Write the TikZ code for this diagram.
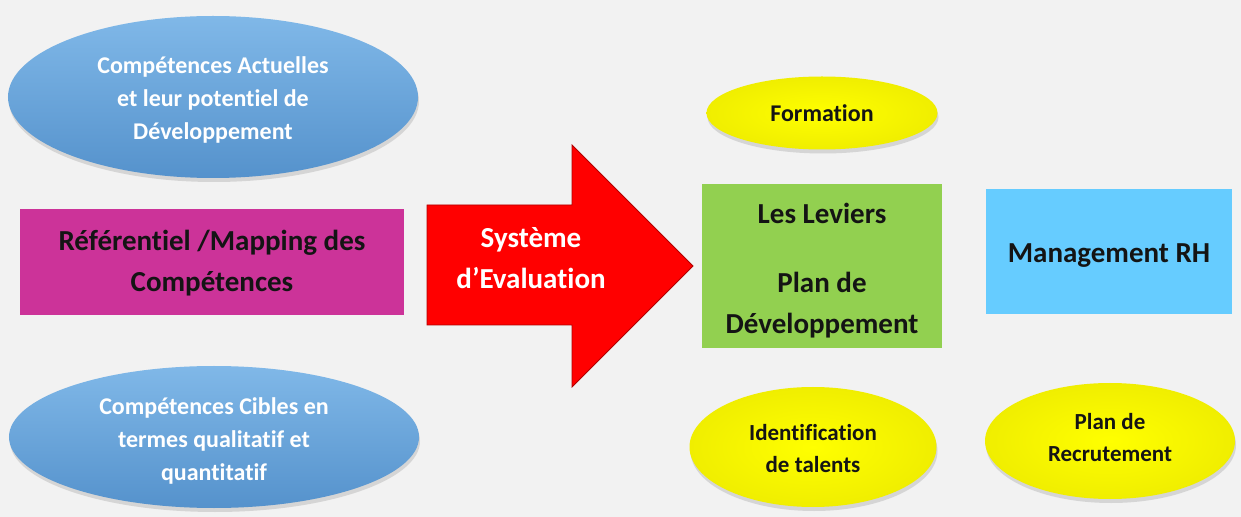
\documentclass[tikz,border=0pt]{standalone}
\usepackage{fontspec}
\setmainfont{Carlito}[Ligatures=NoCommon, RawFeature={-liga;-clig;-calt;-dlig}]
\usepackage{tikz}
\usepackage{xcolor}
\usetikzlibrary{shapes}
\usetikzlibrary{shadows}
\usetikzlibrary{positioning, fit, arrows.meta}

\definecolor{fond}{HTML}{F2F2F2}
\definecolor{bleuHaut}{HTML}{80B8E8}
\definecolor{bleuBas}{HTML}{5592CC}
\definecolor{magenta}{HTML}{CC3399}
\definecolor{rouge}{HTML}{FF0000}
\definecolor{rougeBord}{HTML}{B00000}
\definecolor{vert}{HTML}{92D050}
\definecolor{ciel}{HTML}{66CCFF}
\definecolor{jaune}{HTML}{FFFF00}
\definecolor{jauneBord}{HTML}{F0EE00}
\definecolor{encre}{HTML}{141414}

\begin{document}
\begin{tikzpicture}[x=1bp, y=-1bp,
    bulle/.style={ellipse, inner sep=0pt, top color=bleuHaut, bottom color=bleuBas,
        drop shadow={opacity=0.25, shadow xshift=1bp, shadow yshift=-4bp}},
    levier/.style={ellipse, inner sep=0pt, inner color=jaune, outer color=jauneBord,
        drop shadow={opacity=0.25, shadow xshift=1bp, shadow yshift=-4bp}},
    bloc/.style={rectangle, inner sep=0pt},
    blanc/.style={align=center, inner sep=0pt, text=white, font=\bfseries\fontsize{24bp}{33bp}\selectfont},
    noir/.style={align=center, inner sep=0pt, text=encre, font=\bfseries\fontsize{23bp}{32bp}\selectfont},
    gros/.style={align=center, inner sep=0pt, text=encre, font=\bfseries\fontsize{29bp}{41bp}\selectfont}]
    \fill[fond] (0,0) rectangle (1241,517);
    \useasboundingbox (0,0) rectangle (1241,517);

    % left column
    \node [bulle, minimum width=410bp, minimum height=162bp] (actuelles) at (213,97) {};
    \node [blanc, yshift=-2.5bp] (actuellesTxt) at (actuelles.center)
        {Compétences Actuelles\\et leur potentiel de\\Développement};
    \node [bloc, fill=magenta, minimum width=384bp, minimum height=106bp] (referentiel) at (212,262) {};
    \node [gros, yshift=-1bp] (referentielTxt) at (referentiel.center)
        {Référentiel /Mapping des\\Compétences};
    \node [bulle, minimum width=410bp, minimum height=142bp] (cibles) at (214,437) {};
    \node [blanc, yshift=-3.5bp] (ciblesTxt) at (cibles.center)
        {Compétences Cibles en\\termes qualitatif et\\quantitatif};

    % the big arrow
    \filldraw [fill=rouge, draw=rougeBord, line width=0.8bp, line join=miter]
        (427,205) -- (572,205) -- (572,145) -- (693,266) -- (572,387) -- (572,325) -- (427,325) -- cycle;
    \node [gros, text=white] (evaluation) at (531,258) {Système\\d’Evaluation};

    % the levers
    \node [levier, minimum width=231bp, minimum height=73bp] (formation) at (822,113) {};
    \node [noir, font=\bfseries\fontsize{24bp}{33bp}\selectfont] (formationTxt) at (formation.center) {Formation};
    \node [bloc, fill=vert, minimum width=240bp, minimum height=163bp] (leviers) at (822,266) {};
    \node [gros, yshift=-4.5bp] (leviersTxt) at (leviers.center)
        {Les Leviers\\[28bp]Plan de\\Développement};
    \node [levier, minimum width=247bp, minimum height=120bp] (talents) at (813,447) {};
    \node [noir, yshift=-1.5bp] (talentsTxt) at (talents.center) {Identification\\de talents};

    % right column
    \node [bloc, fill=ciel, minimum width=246bp, minimum height=125bp] (management) at (1109,252) {};
    \node [gros, yshift=-4bp] (managementTxt) at (management.center) {Management RH};
    \node [levier, minimum width=250bp, minimum height=116bp] (recrutement) at (1110,441) {};
    \node [noir, yshift=3.5bp] (recrutementTxt) at (recrutement.center) {Plan de\\Recrutement};
\end{tikzpicture}
\end{document}
